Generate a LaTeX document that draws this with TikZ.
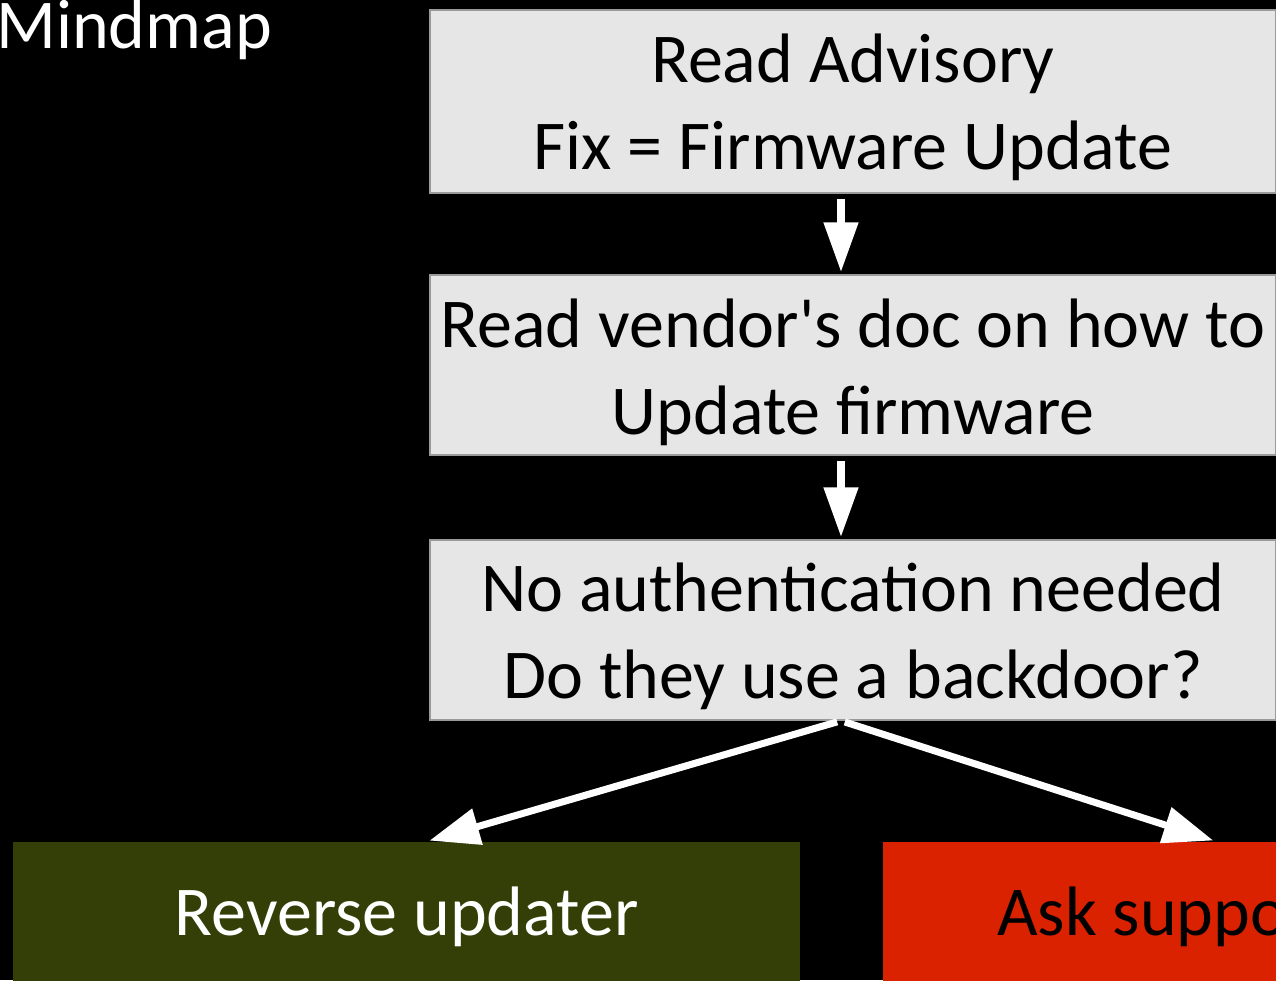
\documentclass[tikz,border=0pt]{standalone}
\usepackage{fontspec}
\setmainfont{Carlito}
\usetikzlibrary{arrows.meta}
\definecolor{boxgray}{HTML}{E6E6E6}
\definecolor{boxedge}{HTML}{9A9A9A}
\definecolor{leafgreen}{HTML}{333F06}
\definecolor{leafred}{HTML}{DA2200}
\begin{document}
\begin{tikzpicture}[x=1pt,y=-1pt,
  flowbox/.style={fill=boxgray, draw=boxedge, line width=1.5pt,
    minimum width=846pt, inner sep=0pt},
  flowtext/.style={anchor=north, inner sep=0pt,
    font=\fontsize{70}{87}\selectfont},
  leafbox/.style={minimum width=787pt, minimum height=160pt,
    inner sep=0pt, anchor=north west},
  bigtext/.style={font=\fontsize{70}{87}\selectfont, inner sep=0pt},
  downflow/.style={draw=white, line width=8pt,
    -{Triangle[width=33pt,length=50pt]}},
  splitflow/.style={draw=white, line width=7pt,
    -{Triangle[width=36pt,length=50pt]}}]
\useasboundingbox (0,0) rectangle (1276,980);
\fill[black] (0,0) rectangle (1276,980);
\clip (0,0) rectangle (1276,980);

% title
\node[bigtext, text=white, anchor=base west] (title) at (-4,48) {Mindmap};

% main chain: boxes
\node[flowbox, minimum height=183pt] (adv) at (853,101.5) {};
\node[flowbox, minimum height=180pt] (doc) at (853,365) {};
\node[flowbox, minimum height=180pt] (auth) at (853,630) {};

% main chain: texts (first baseline 61pt below the top of each block)
\node[flowtext] (advtext) at (853,21)
  {\begin{tabular}{@{}c@{}}Read Advisory\\Fix = Firmware Update\end{tabular}};
\node[flowtext] (doctext) at (853,286)
  {\begin{tabular}{@{}c@{}}Read vendor\textquotesingle s doc on how to\\Update firmware\end{tabular}};
\node[flowtext] (authtext) at (853,550)
  {\begin{tabular}{@{}c@{}}No authentication needed\\Do they use a backdoor?\end{tabular}};

% two outcomes
\node[leafbox, fill=leafgreen] (rev) at (13,842) {};
\node[bigtext, text=white, anchor=base] (revtext) at (rev.north |- 0,935) {Reverse updater};
\node[leafbox, fill=leafred] (ask) at (883,842) {};
\node[bigtext, text=black, anchor=base west] (asktext) at (997,935) {Ask support};

% connectors
\draw[downflow, shorten <=5pt, shorten >=2pt]
  ([xshift=-12pt]adv.south) -- ([xshift=-12pt]doc.north);
\draw[downflow, shorten <=5pt, shorten >=2pt]
  ([xshift=-12pt]doc.south) -- ([xshift=-12pt]auth.north);
\draw[splitflow, shorten <=4pt, shorten >=5pt]
  ([xshift=-12pt]auth.south) -- ([xshift=18pt]rev.north);
\draw[splitflow, shorten <=4pt, shorten >=5pt]
  ([xshift=-12pt]auth.south) -- ([xshift=335pt]ask.north west);
\end{tikzpicture}
\end{document}
